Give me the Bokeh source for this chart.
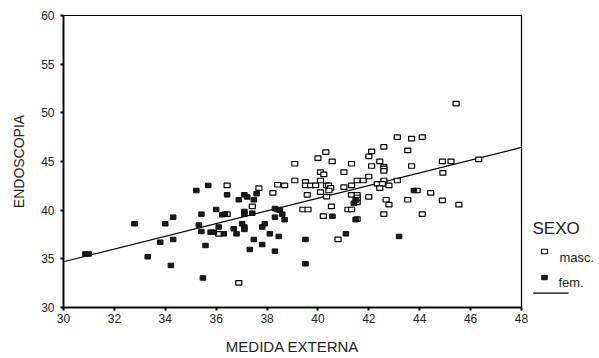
from bokeh.plotting import figure
from bokeh.layouts import row
from bokeh.models import Range1d, FixedTicker
from bokeh.embed import file_html
from bokeh.resources import INLINE
from bokeh.core.properties import value

# ---- data ----
fem_x = [30.86, 30.99, 32.79, 34.00, 34.31, 33.80, 34.31, 33.31, 34.22, 35.22,
         35.69, 35.42, 35.32, 35.42, 35.58, 35.48, 36.00, 35.78, 35.91, 36.30,
         36.43, 36.89, 37.11, 37.22, 37.48, 37.59, 36.24, 36.34, 37.11, 37.11,
         37.42, 36.10, 36.69, 36.80, 37.02, 37.11, 37.11, 37.81, 37.91, 38.11,
         37.48, 37.81, 37.32, 38.46, 38.31, 38.31, 38.50, 38.60, 38.31, 38.69,
         39.51, 39.51, 40.57, 41.10, 41.41, 41.48, 41.48, 43.77, 43.19]
fem_y = [35.50, 35.50, 38.60, 38.60, 39.28, 36.71, 36.99, 35.21, 34.32, 42.02,
         42.54, 39.59, 38.47, 37.81, 36.37, 33.03, 40.07, 37.74, 37.74, 37.57,
         41.58, 41.07, 41.58, 41.36, 41.07, 41.69, 39.53, 39.59, 39.87, 39.59,
         39.69, 38.27, 38.09, 37.57, 38.60, 38.27, 38.02, 38.27, 38.60, 37.57,
         36.99, 36.47, 35.96, 37.30, 35.79, 40.17, 40.00, 39.59, 39.28, 39.02,
         36.99, 34.49, 39.38, 37.57, 40.70, 41.00, 39.02, 42.02, 37.30]

masc_x = [36.43, 37.68, 38.23, 38.42, 38.69, 39.09, 39.51, 39.51, 39.71, 39.91,
          40.10, 40.23, 40.10, 40.10, 40.34, 40.42, 40.50, 40.34, 40.43, 39.58,
          41.02, 41.02, 41.32, 41.54, 41.78, 42.00, 41.32, 41.54, 41.54, 41.54,
          41.54, 42.00, 37.42, 36.43, 36.10, 38.42, 39.41, 39.61, 40.53, 40.21,
          41.18, 41.32, 41.54, 40.79, 36.89, 42.59, 42.68, 42.79, 42.59, 43.12,
          42.33, 42.53, 42.79, 42.43, 43.12, 42.59, 42.11, 42.00, 40.31, 40.00,
          40.56, 39.09, 41.32, 42.11, 42.43, 42.59, 42.59, 42.59, 45.43, 43.68,
          44.10, 43.53, 43.68, 44.89, 45.23, 46.32, 44.91, 43.90, 44.43, 43.53,
          44.89, 45.54, 44.10]
masc_y = [42.54, 42.26, 41.77, 42.61, 42.54, 43.05, 42.90, 42.54, 42.54, 42.54,
          43.91, 43.67, 43.05, 41.85, 42.54, 42.54, 42.30, 41.40, 42.02, 41.58,
          43.91, 42.36, 42.54, 43.05, 43.05, 43.46, 41.58, 41.58, 41.30, 41.07,
          40.80, 41.36, 40.38, 39.59, 37.57, 40.07, 40.07, 40.07, 40.38, 39.38,
          40.07, 40.07, 39.08, 36.99, 32.54, 39.59, 41.07, 40.56, 43.05, 43.05,
          42.71, 42.71, 42.54, 42.26, 47.50, 46.50, 46.03, 45.52, 45.96, 45.34,
          45.01, 44.77, 44.77, 44.54, 45.01, 44.44, 44.26, 44.03, 50.94, 47.34,
          47.50, 46.14, 44.54, 45.01, 45.01, 45.21, 43.84, 42.02, 41.77, 41.07,
          41.00, 40.56, 39.59]

fit_x = [30, 48]
fit_y = [34.7, 46.45]

x_ticks = [30, 32, 34, 36, 38, 40, 42, 44, 46, 48]
y_ticks = [30, 35, 40, 45, 50, 55, 60]

legend_title = "SEXO"
legend_labels = ["masc.", "fem."]

FONT = "Liberation Sans"
TOP, BOTTOM = 15, 51
H = 358

p = figure(width=528, height=H, x_range=Range1d(30, 48), y_range=Range1d(30, 60),
           output_backend="svg", toolbar_location=None,
           min_border_left=63, min_border_right=7, min_border_top=TOP, min_border_bottom=BOTTOM)
p.grid.visible = False
p.outline_line_color = "black"
p.outline_line_width = 1.2
p.background_fill_color = "white"

for ax in (p.xaxis[0], p.yaxis[0]):
    ax.axis_line_width = 1.8
    ax.axis_line_color = "black"
    ax.major_tick_line_width = 2
    ax.major_tick_line_color = "black"
    ax.major_tick_out = 3
    ax.major_tick_in = 0
    ax.minor_tick_line_color = None
    ax.major_label_text_font = FONT
    ax.major_label_text_font_size = "12px"
    ax.major_label_text_color = "#222222"
    ax.axis_label_text_font = FONT
    ax.axis_label_text_font_style = "normal"
    ax.axis_label_text_color = "#222222"

p.xaxis[0].axis_label_text_font_size = "15px"
p.yaxis[0].axis_label_text_font_size = "14px"
p.xaxis[0].ticker = FixedTicker(ticks=x_ticks)
p.yaxis[0].ticker = FixedTicker(ticks=y_ticks)
p.xaxis[0].axis_label = "MEDIDA EXTERNA"
p.yaxis[0].axis_label = "ENDOSCOPIA"
p.xaxis[0].major_label_standoff = 3
p.yaxis[0].major_label_standoff = 6
p.xaxis[0].axis_label_standoff = 12
p.yaxis[0].axis_label_standoff = 11

p.line(fit_x, fit_y, line_color="black", line_width=1.2)
p.rect(masc_x, masc_y, width=6, height=4.5, width_units="screen", height_units="screen",
       fill_color="white", line_color="black", line_width=1.2)
p.rect(fem_x, fem_y, width=5.5, height=4.5, width_units="screen", height_units="screen",
       fill_color="#1a1a1a", line_color="#111111", line_width=1)

# ---- legend panel (its frame is aligned with the main frame: page y 15..307) ----
lg = figure(width=71, height=H, x_range=Range1d(0, 71), y_range=Range1d(307, 15),
            output_backend="svg", toolbar_location=None,
            x_axis_location=None, y_axis_location=None,
            min_border_left=0, min_border_right=0, min_border_top=TOP, min_border_bottom=BOTTOM)
lg.grid.visible = False
lg.outline_line_color = None

lg.text(x=[4], y=[228], text=[legend_title], text_font=value(FONT), text_font_size="17px",
        text_baseline="middle", text_color="#222222")
lg.rect(x=[16], y=[251], width=6, height=4.5, width_units="screen", height_units="screen",
        fill_color="white", line_color="black", line_width=1.2)
lg.rect(x=[16], y=[277], width=5.5, height=4.5, width_units="screen", height_units="screen",
        fill_color="#1a1a1a", line_color="#111111", line_width=1)
lg.text(x=[31, 30], y=[256.5, 282], text=legend_labels, text_font=value(FONT),
        text_font_size="13px", text_baseline="middle", text_color="#222222")
lg.line(x=[4.7, 40], y=[292.7, 292.7], line_color="black", line_width=1.2)

layout = row(p, lg)
open("out.html", "w").write(file_html(layout, INLINE))
